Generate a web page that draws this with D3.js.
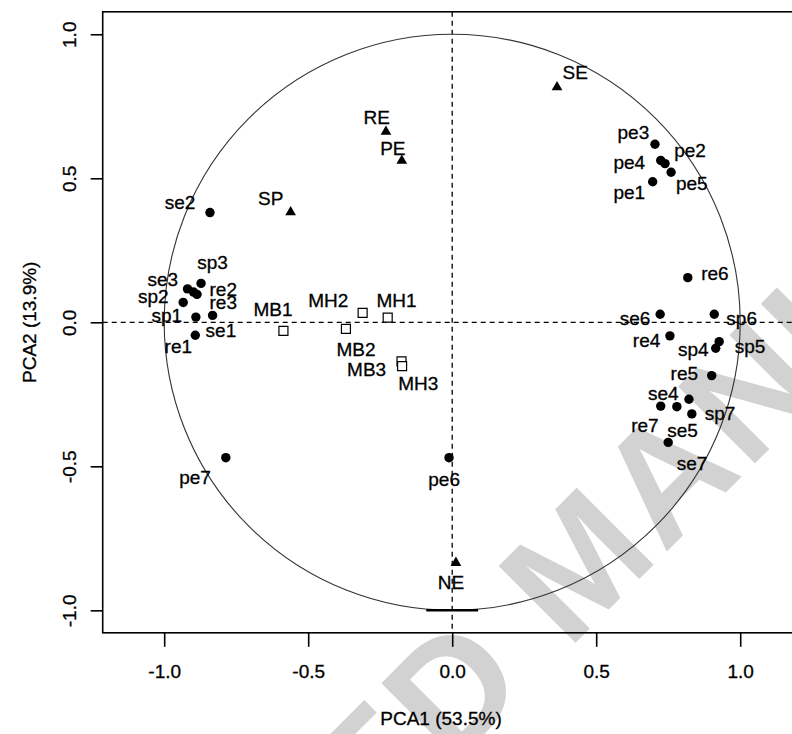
<!DOCTYPE html>
<html><head><meta charset="utf-8">
<script src="https://cdn.jsdelivr.net/npm/d3@7"></script>
<style>
body{margin:0;background:#fff}
svg{display:block}
text{font-family:"Liberation Sans",Arial,Helvetica,sans-serif}
</style>
</head><body>
<svg id="chart" width="792" height="734"></svg>
<script>
// ---------- data ----------
const siteNames = ["se2","sp3","se3","re2","re3","sp2","sp1","se1","re1",
  "pe3","pe4","pe2","pe5","pe1","re6","se6","sp6","re4","sp5","sp4","re5",
  "se4","re7","se5","sp7","se7","pe7","pe6"];
const siteX = [-0.841,-0.872,-0.919,-0.898,-0.886,-0.934,-0.890,-0.832,-0.892,
  0.704,0.724,0.739,0.760,0.696,0.818,0.722,0.910,0.756,0.927,0.915,0.901,
  0.822,0.724,0.780,0.832,0.750,-0.786,-0.011];
const siteY = [0.381,0.135,0.116,0.105,0.097,0.069,0.018,0.024,-0.045,
  0.618,0.562,0.551,0.521,0.488,0.155,0.028,0.028,-0.047,-0.067,-0.090,-0.185,
  -0.267,-0.291,-0.293,-0.318,-0.417,-0.470,-0.470];
const siteLabelX = [-0.945,-0.832,-1.005,-0.795,-0.795,-1.038,-0.991,-0.803,-0.951,
  0.629,0.615,0.826,0.832,0.615,0.912,0.635,1.005,0.675,1.034,0.837,0.806,
  0.733,0.669,0.800,0.930,0.833,-0.893,-0.028];
const siteLabelY = [0.415,0.208,0.149,0.115,0.068,0.091,0.025,-0.027,-0.085,
  0.658,0.554,0.598,0.483,0.450,0.170,0.014,0.014,-0.061,-0.085,-0.094,-0.177,
  -0.247,-0.359,-0.374,-0.316,-0.489,-0.538,-0.544];

const envNames = ["SE","RE","PE","SP","NE"];
const envX = [0.364,-0.230,-0.175,-0.561,0.013];
const envY = [0.816,0.662,0.561,0.382,-0.835];
const envLabelX = [0.427,-0.262,-0.206,-0.630,-0.004];
const envLabelY = [0.869,0.713,0.605,0.432,-0.904];

const sampleNames = ["MB1","MB2","MH2","MH1","MB3","MH3"];
const sampleX = [-0.586,-0.369,-0.311,-0.224,-0.176,-0.174];
const sampleY = [-0.030,-0.023,0.033,0.016,-0.136,-0.152];
const sampleLabelX = [-0.622,-0.334,-0.430,-0.193,-0.297,-0.118];
const sampleLabelY = [0.046,-0.093,0.077,0.077,-0.163,-0.212];

const xTicks = [-1.0,-0.5,0.0,0.5,1.0];
const yTicks = [-1.0,-0.5,0.0,0.5,1.0];
const xTitle = "PCA1 (53.5%)";
const yTitle = "PCA2 (13.9%)";
const circleBaseSegment = [-0.09, 0.09];
const watermark = "ACCEPTED MANUSCRIPT";

// ---------- drawing ----------
const svg = d3.select("#chart");
const x = d3.scaleLinear().domain([-1.2135, 1.2135]).range([102.7, 801.7]);
const y = d3.scaleLinear().domain([-1.078, 1.078]).range([632.8, 11.8]);
const FS = 19;

// watermark (behind)
svg.append("text")
  .attr("transform", "translate(580,560) rotate(-45)")
  .attr("text-anchor", "middle")
  .attr("dy", "0.35em")
  .attr("font-size", 158)
  .attr("letter-spacing", 4)
  .attr("font-weight", "bold")
  .attr("fill", "#d2d2d2")
  .text(watermark);

// reference dashed lines
svg.append("line")
  .attr("x1", x.range()[0]).attr("x2", x.range()[1])
  .attr("y1", y(0)).attr("y2", y(0))
  .attr("stroke", "#000").attr("stroke-width", 1.3).attr("stroke-dasharray", "5,4");
svg.append("line")
  .attr("x1", x(0)).attr("x2", x(0))
  .attr("y1", y.range()[1]).attr("y2", y.range()[0])
  .attr("stroke", "#000").attr("stroke-width", 1.3).attr("stroke-dasharray", "5,4");

// correlation circle
svg.append("ellipse")
  .attr("cx", x(0)).attr("cy", y(0))
  .attr("rx", x(1) - x(0)).attr("ry", y(0) - y(1))
  .attr("fill", "none").attr("stroke", "#333").attr("stroke-width", 1.1);
svg.append("line")
  .attr("x1", x(circleBaseSegment[0])).attr("x2", x(circleBaseSegment[1]))
  .attr("y1", y(-1)).attr("y2", y(-1))
  .attr("stroke", "#000").attr("stroke-width", 2.5);

// plot box
svg.append("rect")
  .attr("x", x.range()[0]).attr("y", y.range()[1])
  .attr("width", x.range()[1] - x.range()[0])
  .attr("height", y.range()[0] - y.range()[1])
  .attr("fill", "none").attr("stroke", "#000").attr("stroke-width", 1.6);

// axes
const fmt = d => d.toFixed(1);
const gx = svg.append("g").attr("transform", `translate(0,${y.range()[0]})`)
  .call(d3.axisBottom(x).tickValues(xTicks).tickSize(14).tickFormat(fmt));
gx.select(".domain").remove();
gx.selectAll(".tick line").attr("stroke-width", 1.6);
gx.selectAll(".tick text").attr("font-size", FS).attr("fill", "#000")
  .attr("font-family", '"Liberation Sans",Arial,sans-serif')
  .attr("stroke", "#000").attr("stroke-width", 0.3)
  .attr("y", 39).attr("dy", "0.35em");

const gy = svg.append("g").attr("transform", `translate(${x.range()[0]},0)`)
  .call(d3.axisLeft(y).tickValues(yTicks).tickSize(12).tickFormat(fmt));
gy.select(".domain").remove();
gy.selectAll(".tick line").attr("stroke-width", 1.6);
gy.selectAll(".tick text").attr("font-size", FS).attr("fill", "#000")
  .attr("font-family", '"Liberation Sans",Arial,sans-serif')
  .attr("stroke", "#000").attr("stroke-width", 0.3)
  .attr("x", null)
  .attr("text-anchor", "middle")
  .attr("transform", "translate(-33,0) rotate(-90)")
  .attr("dy", "0.35em");

// axis titles
svg.append("text").attr("x", 441).attr("y", 718).attr("dy", "0.35em")
  .attr("text-anchor", "middle").attr("font-size", FS)
  .attr("stroke", "#000").attr("stroke-width", 0.3).text(xTitle);
svg.append("text").attr("transform", `translate(29,${y(0)}) rotate(-90)`)
  .attr("dy", "0.35em").attr("text-anchor", "middle").attr("font-size", FS)
  .attr("stroke", "#000").attr("stroke-width", 0.3).text(yTitle);

// sites (filled dots)
const sites = siteNames.map((n, i) => ({n, x: siteX[i], y: siteY[i], lx: siteLabelX[i], ly: siteLabelY[i]}));
svg.append("g").selectAll("circle").data(sites).join("circle")
  .attr("cx", d => x(d.x)).attr("cy", d => y(d.y)).attr("r", 4.7).attr("fill", "#000");

// samples (open squares)
const samples = sampleNames.map((n, i) => ({n, x: sampleX[i], y: sampleY[i], lx: sampleLabelX[i], ly: sampleLabelY[i]}));
svg.append("g").selectAll("path").data(samples).join("path")
  .attr("transform", d => `translate(${x(d.x)},${y(d.y)})`)
  .attr("d", d3.symbol(d3.symbolSquare, 81))
  .attr("fill", "#fff").attr("stroke", "#000").attr("stroke-width", 1.2);

// environmental variables (triangles)
const envs = envNames.map((n, i) => ({n, x: envX[i], y: envY[i], lx: envLabelX[i], ly: envLabelY[i]}));
svg.append("g").selectAll("path").data(envs).join("path")
  .attr("transform", d => `translate(${x(d.x)},${y(d.y)})`)
  .attr("d", d3.symbol(d3.symbolTriangle, 50))
  .attr("fill", "#000");

// labels
const allLabels = sites.concat(samples, envs);
svg.append("g").selectAll("text").data(allLabels).join("text")
  .attr("x", d => x(d.lx)).attr("y", d => y(d.ly)).attr("dy", "0.35em")
  .attr("text-anchor", "middle").attr("font-size", FS).attr("fill", "#000")
  .attr("stroke", "#000").attr("stroke-width", 0.3)
  .text(d => d.n);
</script>
</body></html>
